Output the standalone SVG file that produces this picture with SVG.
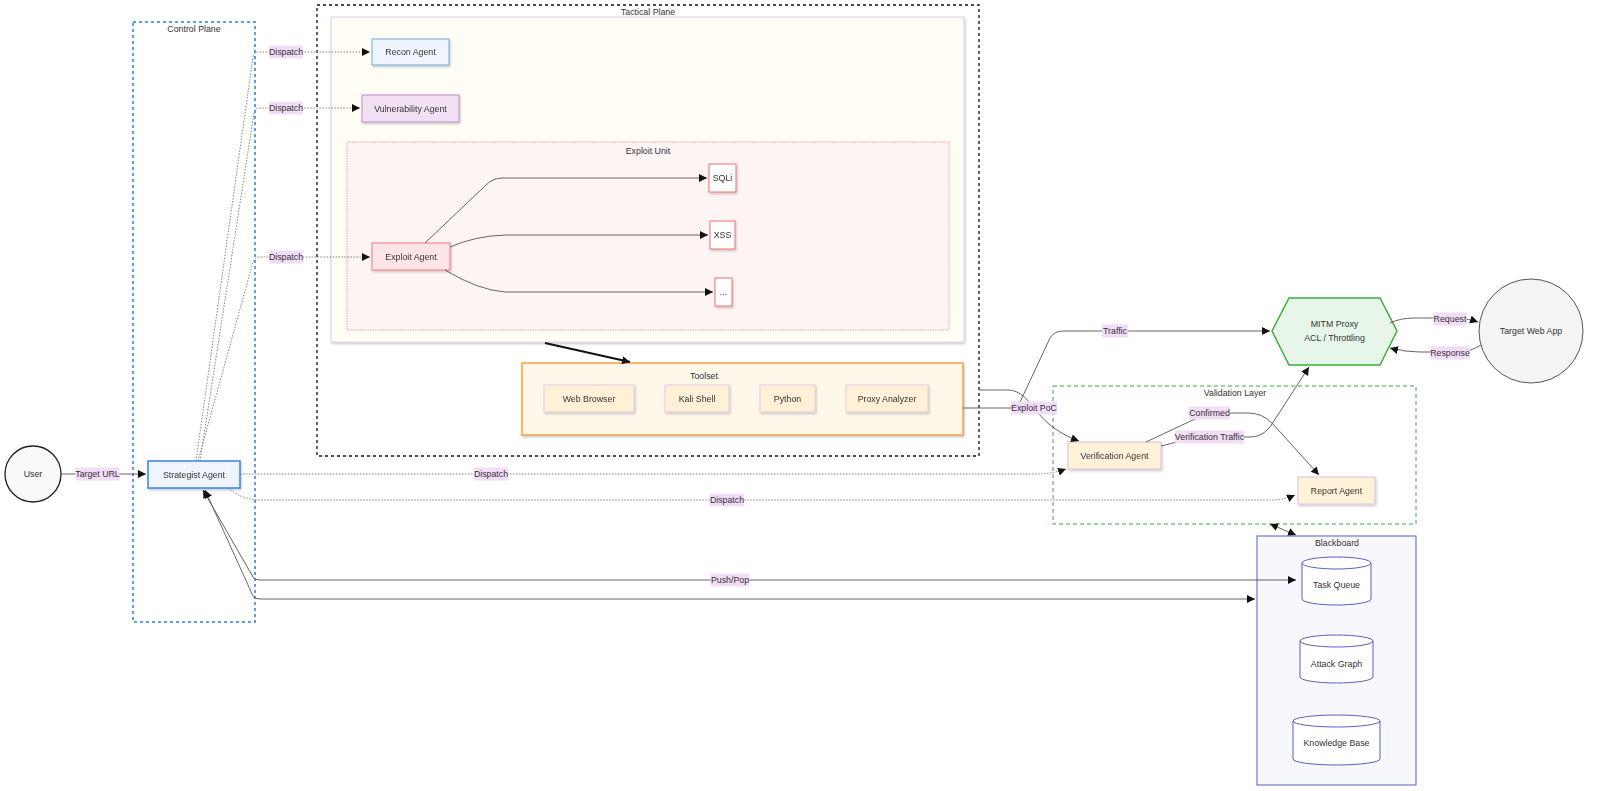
<svg xmlns="http://www.w3.org/2000/svg" width="1600" height="791" viewBox="0 0 1600 791">
<defs>
<marker id="arr" markerUnits="userSpaceOnUse" markerWidth="9" markerHeight="9" refX="8" refY="4" orient="auto-start-reverse"><path d="M0,0 L8,4 L0,8 z" fill="#111"/></marker>
<filter id="sh" x="-10%" y="-10%" width="130%" height="140%"><feDropShadow dx="1" dy="1.5" stdDeviation="1" flood-color="#000" flood-opacity="0.22"/></filter>
<style>
text{font-family:"Liberation Sans",Arial,sans-serif;font-size:8.8px;fill:#333;text-anchor:middle;dominant-baseline:central}
.e{fill:none;stroke:#555;stroke-width:0.9}
.d{fill:none;stroke:#777;stroke-width:0.9;stroke-dasharray:1.5 1.5}
.lb{fill:#f2dcf8}
.node{filter:url(#sh)}
</style>
</defs>
<rect width="1600" height="791" fill="#fff"/>

<g id="control-plane">
<rect x="133" y="22" width="122" height="600" fill="none" stroke="#2a7be4" stroke-width="1.5" stroke-dasharray="3 3"/>
<text x="194" y="29">Control Plane</text>
</g>

<g id="tactical-plane">
<rect x="317" y="5" width="662" height="451" fill="none" stroke="#111" stroke-width="1.3" stroke-dasharray="3 3"/>
<text x="648" y="12">Tactical Plane</text>
<rect x="331" y="17" width="633" height="325" fill="#fffdf4" stroke="#dccde8" class="node"/>
</g>

<g id="recon-agent" class="node"><rect x="372" y="39" width="77" height="26" fill="#eef5ff" stroke="#6fa8e8"/><text x="410.5" y="52">Recon Agent</text></g>
<g id="vulnerability-agent" class="node"><rect x="362" y="95" width="97" height="27" fill="#f2e0f4" stroke="#c08ac8"/><text x="410.5" y="108.5">Vulnerability Agent</text></g>

<g id="exploit-unit">
<rect x="347" y="142" width="602" height="188" fill="#fff4f4" stroke="#f0a0a0" stroke-dasharray="1.5 1"/>
<text x="648" y="151">Exploit Unit</text>
</g>
<g id="exploit-agent" class="node"><rect x="372" y="243" width="78" height="27" fill="#ffe4e8" stroke="#f07a80"/><text x="411" y="256.5">Exploit Agent</text></g>
<g id="sqli" class="node"><rect x="709" y="164" width="27" height="28" fill="#fff" stroke="#f07070"/><text x="722.5" y="178">SQLi</text></g>
<g id="xss" class="node"><rect x="710" y="221" width="25" height="28" fill="#fff" stroke="#f07070"/><text x="722.5" y="235">XSS</text></g>
<g id="more" class="node"><rect x="715" y="278" width="17" height="28" fill="#fff" stroke="#f07070"/><text x="723.5" y="292">...</text></g>

<g id="toolset">
<rect x="522" y="363" width="441" height="72" fill="#fff8ea" stroke="#f7a040" stroke-width="1.5" class="node"/>
<text x="704" y="376">Toolset</text>
</g>
<g id="web-browser" class="node"><rect x="544" y="385" width="90" height="27" fill="#fff0d6" stroke="#e0cce8"/><text x="589" y="398.5">Web Browser</text></g>
<g id="kali-shell" class="node"><rect x="665" y="385" width="64" height="27" fill="#fff0d6" stroke="#e0cce8"/><text x="697" y="398.5">Kali Shell</text></g>
<g id="python" class="node"><rect x="760" y="385" width="55" height="27" fill="#fff0d6" stroke="#e0cce8"/><text x="787.5" y="398.5">Python</text></g>
<g id="proxy-analyzer" class="node"><rect x="846" y="385" width="82" height="27" fill="#fff0d6" stroke="#e0cce8"/><text x="887" y="398.5">Proxy Analyzer</text></g>

<g id="validation-layer">
<rect x="1053" y="386" width="363" height="138" fill="none" stroke="#3aa64a" stroke-dasharray="4 3"/>
<text x="1235" y="393">Validation Layer</text>
</g>
<g id="verification-agent" class="node"><rect x="1068" y="442" width="93" height="27" fill="#fff2d8" stroke="#dcc0e0"/><text x="1114.5" y="455.5">Verification Agent</text></g>
<g id="report-agent" class="node"><rect x="1298" y="477" width="77" height="27" fill="#fff2d8" stroke="#dcc0e0"/><text x="1336.5" y="490.5">Report Agent</text></g>

<g id="blackboard">
<rect x="1257" y="536" width="159" height="249" fill="#f7f8fe" stroke="#5a5fc0"/>
<text x="1337" y="543">Blackboard</text>
</g>
<g id="task-queue"><path d="M1302,563 a34.5,6 0 0 1 69,0 v36 a34.5,6 0 0 1 -69,0 z" fill="#fff" stroke="#5a5fc0"/><path d="M1302,563 a34.5,6 0 0 0 69,0" fill="none" stroke="#5a5fc0"/><text x="1336.5" y="585">Task Queue</text></g>
<g id="attack-graph"><path d="M1300,641 a36.5,6 0 0 1 73,0 v36 a36.5,6 0 0 1 -73,0 z" fill="#fff" stroke="#5a5fc0"/><path d="M1300,641 a36.5,6 0 0 0 73,0" fill="none" stroke="#5a5fc0"/><text x="1336.5" y="664">Attack Graph</text></g>
<g id="knowledge-base"><path d="M1293,721 a43.5,6 0 0 1 87,0 v38 a43.5,6 0 0 1 -87,0 z" fill="#fff" stroke="#5a5fc0"/><path d="M1293,721 a43.5,6 0 0 0 87,0" fill="none" stroke="#5a5fc0"/><text x="1336.5" y="743">Knowledge Base</text></g>

<g id="user"><circle cx="33" cy="474" r="28" fill="#f8f9fb" stroke="#222" stroke-width="1.3"/><text x="33" y="474">User</text></g>
<g id="strategist-agent" class="node"><rect x="148" y="461" width="92" height="27" fill="#eef5ff" stroke="#3b82e6" stroke-width="1.5"/><text x="194" y="474.5">Strategist Agent</text></g>

<g id="mitm-proxy"><polygon points="1272,331 1289,298 1380,298 1397,331 1380,365 1289,365" fill="#e8f5e9" stroke="#3cad3c" stroke-width="1.5"/><text x="1334.5" y="324">MITM Proxy</text><text x="1334.5" y="338">ACL / Throttling</text></g>
<g id="target-web-app"><circle cx="1531" cy="331" r="52" fill="#f4f4f4" stroke="#555"/><text x="1531" y="331">Target Web App</text></g>

<g id="connectors">
<path class="e" d="M61,474 L146,474" marker-end="url(#arr)"/>
<path class="d" d="M196,461 L253,57 Q254,52 259,52 L370,52" marker-end="url(#arr)"/>
<path class="d" d="M200,461 L254,113 Q255,108 260,108 L360,108" marker-end="url(#arr)"/>
<path class="d" d="M198,461 L253,262 Q255,257 260,257 L370,257" marker-end="url(#arr)"/>
<path class="e" d="M425,243 L485,186 Q492,178 503,178 L707,178" marker-end="url(#arr)"/>
<path class="e" d="M450,247 Q475,236 505,235 L708,235" marker-end="url(#arr)"/>
<path class="e" d="M445,270 Q478,290 505,292 L713,292" marker-end="url(#arr)"/>
<path fill="none" stroke="#111" stroke-width="2" d="M545,343 L630,362" marker-end="url(#arr)"/>
<path class="e" d="M979,390 L1008,390 C1020,390 1028,400 1036,410 C1046,424 1060,434 1079,441" marker-end="url(#arr)"/>
<path class="e" d="M963,408 L1012,408 Q1018,407 1021,400 L1050,338 Q1054,331 1063,331 L1270,331" marker-end="url(#arr)"/>
<path class="d" d="M240,474 L1035,474 Q1052,474 1066,469" marker-end="url(#arr)"/>
<path class="d" d="M228,488 Q242,500 262,500 L1270,500 Q1284,500 1295,495" marker-end="url(#arr)"/>
<path class="e" d="M1146,442 L1195,419 Q1203,413 1215,413 L1248,413 Q1262,413 1272,423 L1319,475" marker-end="url(#arr)"/>
<path class="e" d="M1161,446 L1185,440 Q1195,437 1210,437 L1250,437 Q1262,437 1270,427 L1309,367" marker-end="url(#arr)"/>
<path class="e" d="M1390,323 Q1400,318 1415,318 L1455,318 Q1466,318 1478,322" marker-end="url(#arr)"/>
<path class="e" d="M1481,345 Q1470,352 1458,352 L1420,352 Q1405,352 1390,348" marker-end="url(#arr)"/>
<path class="e" d="M203,490 L253,577 Q255,580 260,580 L1296,580" marker-start="url(#arr)" marker-end="url(#arr)"/>
<path class="e" d="M205,490 L253,596 Q255,599 260,599 L1255,599" marker-start="url(#arr)" marker-end="url(#arr)"/>
<path class="e" d="M1270,524 L1296,535" marker-start="url(#arr)" marker-end="url(#arr)"/>
<g id="edge-labels">
<rect class="lb" x="269" y="45.5" width="34" height="13"/><text x="286" y="52">Dispatch</text>
<rect class="lb" x="75.5" y="467.5" width="44" height="13"/><text x="97.5" y="474">Target URL</text>
<rect class="lb" x="269" y="101.5" width="34" height="13"/><text x="286" y="108">Dispatch</text>
<rect class="lb" x="269" y="250.5" width="34" height="13"/><text x="286" y="257">Dispatch</text>
<rect class="lb" x="474" y="467.5" width="34" height="13"/><text x="491" y="474">Dispatch</text>
<rect class="lb" x="710" y="493.5" width="34" height="13"/><text x="727" y="500">Dispatch</text>
<rect class="lb" x="710.5" y="573.5" width="39" height="13"/><text x="730" y="580">Push/Pop</text>
<rect class="lb" x="1102" y="324.5" width="26" height="13"/><text x="1115" y="331">Traffic</text>
<rect class="lb" x="1011" y="401.5" width="46" height="13"/><text x="1034" y="408">Exploit PoC</text>
<rect class="lb" x="1189" y="406.5" width="41" height="13"/><text x="1209.5" y="413">Confirmed</text>
<rect class="lb" x="1175" y="430.5" width="69" height="13"/><text x="1209.5" y="437">Verification Traffic</text>
<rect class="lb" x="1433.5" y="312.5" width="33" height="13"/><text x="1450" y="319">Request</text>
<rect class="lb" x="1430.5" y="346.5" width="39" height="13"/><text x="1450" y="353">Response</text>
</g>
</g>
</svg>
